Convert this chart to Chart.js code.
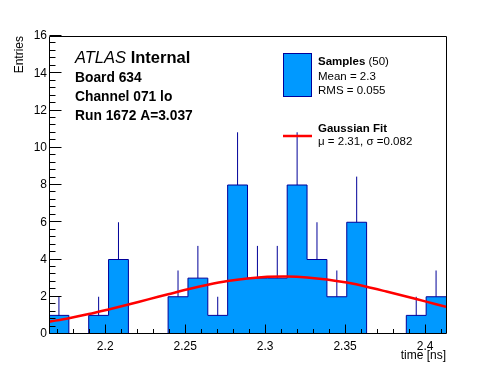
<!DOCTYPE html>
<html>
<head>
<meta charset="utf-8">
<script src="https://cdn.jsdelivr.net/npm/chart.js@4/dist/chart.umd.min.js"></script>
<style>
html,body{margin:0;padding:0;background:#fff;}
#wrap{width:496px;height:372px;position:relative;}
</style>
</head>
<body>
<div id="wrap"><canvas id="c" width="496" height="372"></canvas></div>
<script>
// ---- data ----
const binEdges = [2.16485, 2.17726, 2.18968, 2.20209, 2.21450, 2.22691, 2.23933, 2.25174, 2.26415, 2.27656,
                  2.28898, 2.30139, 2.31380, 2.32621, 2.33863, 2.35104, 2.36345, 2.37586, 2.38828, 2.40069, 2.41310];
const counts   = [1, 0, 1, 4, 0, 0, 2, 3, 1, 8, 3, 3, 8, 4, 2, 6, 0, 0, 1, 2];
const errHigh  = [1, 0, 1, 2, 0, 0, 1.41, 1.73, 1, 2.83, 1.73, 1.73, 2.83, 2, 1.41, 2.45, 0, 0, 1, 1.41];
const fitValues = [0.66, 0.85, 1.07, 1.32, 1.58, 1.86, 2.13, 2.40, 2.64, 2.84, 2.98, 3.07, 3.09, 3.04, 2.93, 2.76, 2.54, 2.28, 2.01, 1.74, 1.46];
const xTickValues = [2.2, 2.25, 2.3, 2.35, 2.4];
const xTickLabels = ['2.2', '2.25', '2.3', '2.35', '2.4'];
const yTickValues = [0, 2, 4, 6, 8, 10, 12, 14, 16];
const yTickLabels = ['0', '2', '4', '6', '8', '10', '12', '14', '16'];
const xTitle = 'time [ns]';
const yTitle = 'Entries';
const infoLines = ['Board 634', 'Channel 071 lo', 'Run 1672 A=3.037'];
const legendSamples = {name: 'Samples', extra: ' (50)', lines: ['Mean = 2.3', 'RMS = 0.055']};
const legendFit = {name: 'Gaussian Fit', lines: ['\u03bc = 2.31, \u03c3 =0.082']};

const FILL = '#0099ff';
const NAVY = '#000099';
const FONT = '"Liberation Sans", Arimo, Helvetica, Arial, sans-serif';

// histogram outline points (left edges + final right edge)
const histPts = counts.map((c, i) => ({x: binEdges[i], y: c}));
histPts.push({x: binEdges[binEdges.length - 1], y: counts[counts.length - 1]});

// error bars as broken line segments
const errPts = [];
counts.forEach((c, i) => {
  if (c > 0) {
    const xc = (binEdges[i] + binEdges[i + 1]) / 2;
    errPts.push({x: xc, y: c}, {x: xc, y: c + errHigh[i]}, {x: xc, y: null});
  }
});

const fitPts = fitValues.map((v, i) => ({x: binEdges[i], y: v}));

const framePlugin = {
  id: 'frame',
  afterDatasetsDraw(chart) {
    const {ctx, chartArea: a, scales: {x, y}} = chart;
    ctx.save();
    ctx.strokeStyle = '#000';
    ctx.lineWidth = 1;
    ctx.beginPath();
    const L = Math.round(a.left) + 0.5, R = Math.round(a.right) + 0.5;
    const T = Math.round(a.top) + 0.5, B = Math.round(a.bottom) - 0.5;
    ctx.rect(L, T, R - L, B - T);
    // y ticks (inside)
    for (let k = 0; k <= 40; k++) {
      const v = k * 0.4;
      const py = Math.round(y.getPixelForValue(v)) - 0.5;
      const len = (k % 5 === 0) ? 12 : 6;
      ctx.moveTo(L, py); ctx.lineTo(L + len, py);
    }
    // x ticks (inside)
    for (let k = 217; k <= 241; k++) {
      const v = k / 100;
      const px = Math.round(x.getPixelForValue(v)) + 0.5;
      const len = (k % 5 === 0) ? 9 : 4.5;
      ctx.moveTo(px, B); ctx.lineTo(px, B - len);
    }
    ctx.stroke();
    ctx.restore();
  },
  afterDraw(chart) {
    const {ctx} = chart;
    ctx.save();
    ctx.fillStyle = '#000';
    ctx.textBaseline = 'alphabetic';
    // axis titles
    ctx.font = '12px ' + FONT;
    ctx.textAlign = 'right';
    ctx.fillText(xTitle, 446, 359);
    ctx.save();
    ctx.translate(23, 36);
    ctx.rotate(-Math.PI / 2);
    ctx.textAlign = 'right';
    ctx.fillText(yTitle, 0, 0);
    ctx.restore();
    // ATLAS label
    ctx.textAlign = 'left';
    ctx.font = 'italic 16.5px ' + FONT;
    ctx.fillText('ATLAS', 75, 63);
    const w = ctx.measureText('ATLAS ').width;
    ctx.font = 'bold 16.5px ' + FONT;
    ctx.fillText('Internal', 75 + w, 63);
    ctx.font = 'bold 13.8px ' + FONT;
    infoLines.forEach((t, i) => ctx.fillText(t, 75, 81.5 + i * 19.3));
    // legend
    ctx.fillStyle = FILL;
    ctx.fillRect(283, 53, 29, 44);
    ctx.strokeStyle = NAVY;
    ctx.lineWidth = 1;
    ctx.strokeRect(283.5, 53.5, 28, 43);
    ctx.fillStyle = '#000';
    ctx.font = 'bold 11.5px ' + FONT;
    ctx.fillText(legendSamples.name, 318, 65);
    const w2 = ctx.measureText(legendSamples.name).width;
    ctx.font = '11.5px ' + FONT;
    ctx.fillText(legendSamples.extra, 318 + w2, 65);
    legendSamples.lines.forEach((t, i) => ctx.fillText(t, 318, 80 + i * 13.5));
    ctx.strokeStyle = '#ff0000';
    ctx.lineWidth = 2.5;
    ctx.beginPath(); ctx.moveTo(283, 136); ctx.lineTo(312, 136); ctx.stroke();
    ctx.font = 'bold 11.5px ' + FONT;
    ctx.fillText(legendFit.name, 318, 132);
    ctx.font = '11.5px ' + FONT;
    legendFit.lines.forEach((t, i) => ctx.fillText(t, 318, 145 + i * 13.5));
    ctx.restore();
  }
};

new Chart(document.getElementById('c'), {
  type: 'line',
  data: {
    datasets: [
      {
        label: 'Gaussian Fit', data: fitPts, borderColor: '#ff0000', borderWidth: 2.5,
        pointRadius: 0, tension: 0.3, fill: false, order: 1
      },
      {
        label: 'errors', data: errPts, borderColor: NAVY, borderWidth: 1,
        pointRadius: 0, spanGaps: false, fill: false, order: 2
      },
      {
        label: 'Samples', data: histPts, borderColor: NAVY, borderWidth: 1, backgroundColor: FILL,
        stepped: 'before', pointRadius: 0, fill: 'origin', order: 3
      }
    ]
  },
  options: {
    responsive: false, animation: false, devicePixelRatio: 1,
    layout: {padding: {top: 36, right: 50, left: 0, bottom: 0}},
    plugins: {legend: {display: false}, tooltip: {enabled: false}},
    scales: {
      x: {
        type: 'linear', min: binEdges[0], max: binEdges[binEdges.length - 1],
        grid: {display: false, drawTicks: false}, border: {display: false},
        afterBuildTicks: s => { s.ticks = xTickValues.map(v => ({value: v})); },
        afterFit: s => { s.height = 38; },
        ticks: {
          padding: 5, maxRotation: 0, autoSkip: false, color: '#000',
          font: {family: FONT, size: 12},
          callback: (v) => { const i = xTickValues.findIndex(t => Math.abs(t - v) < 1e-9); return i >= 0 ? xTickLabels[i] : ''; }
        }
      },
      y: {
        type: 'linear', min: 0, max: 16,
        grid: {display: false, drawTicks: false}, border: {display: false},
        afterBuildTicks: s => { s.ticks = yTickValues.map(v => ({value: v})); },
        afterFit: s => { s.width = 49; },
        ticks: {
          padding: 2, autoSkip: false, color: '#000',
          font: {family: FONT, size: 12},
          callback: (v) => { const i = yTickValues.indexOf(v); return i >= 0 ? yTickLabels[i] : ''; }
        }
      }
    }
  },
  plugins: [framePlugin]
});
</script>
</body>
</html>
